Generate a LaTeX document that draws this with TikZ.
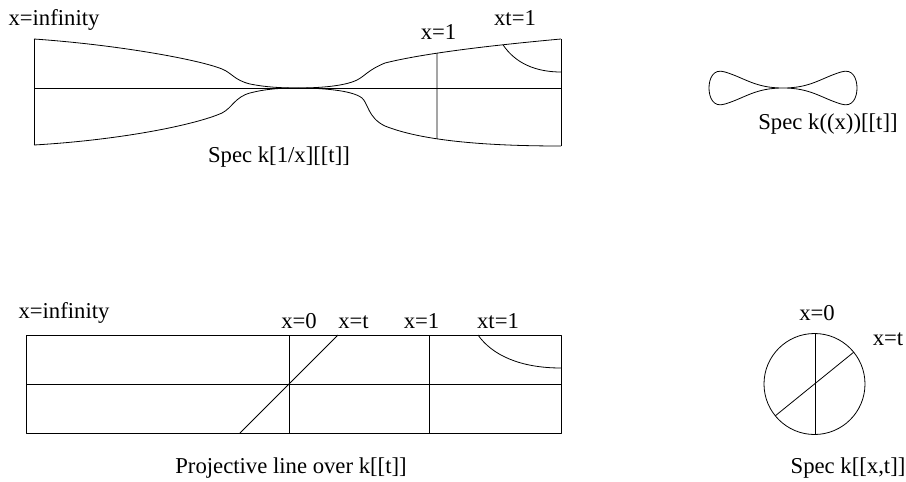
\documentclass[tikz,border=0pt]{standalone}
\usepackage{fontspec}
\setmainfont{Liberation Serif}
\usetikzlibrary{intersections}
\begin{document}
\begin{tikzpicture}[x=1pt,y=-1pt, line width=0.8pt, line join=round,
  lab/.style={font=\fontsize{22.7}{27}\selectfont, inner sep=0pt, anchor=base}]
\useasboundingbox (0,0) rectangle (906,482);
% ---------- top: Spec k[1/x][[t]] ----------
\coordinate (tlA) at (34,39);
\coordinate (blA) at (34,145);
\coordinate (trA) at (561,39);
\coordinate (brA) at (561,146);
\coordinate (neck) at (298,88);
\draw (tlA) -- (blA);
\draw (trA) -- (brA);
\draw (34,88) -- (561,88);
\draw (tlA) .. controls (120,45) and (200,60) .. (222,69)
  .. controls (232,73) and (234,80) .. (250,84)
  .. controls (265,87) and (280,88) .. (neck);
\draw (blA) .. controls (120,140) and (195,125) .. (222,113)
  .. controls (232,108) and (235,97) .. (250,93)
  .. controls (265,89) and (280,88) .. (neck);
\draw[name path=tr] (neck) .. controls (320,88) and (345,86) .. (357,80)
  .. controls (365,76) and (368,70) .. (385,63)
  .. controls (425,53) and (495,45) .. (trA);
\draw[name path=br] (neck) .. controls (320,88) and (352,90) .. (362,98)
  .. controls (368,103) and (368,118) .. (385,126)
  .. controls (420,140) and (480,146) .. (brA);
\path[name path=v1] (437,0) -- (437,200);
\path[name path=v2] (503,0) -- (503,200);
\path[name intersections={of=tr and v1, by=xa}];
\path[name intersections={of=br and v1, by=xb}];
\path[name intersections={of=tr and v2, by=xc}];
\coordinate (xd) at (561,72);
\draw (xa) -- (xb);
\draw (xc) .. controls +(12,18) and +(-26,0) .. (xd);
\node[lab] (t1) at (54,25) {x=infinity};
\node[lab] (t2) at (438.5,39) {x=1};
\node[lab] (t3) at (515,25) {xt=1};
\node[lab] (t4) at (279,162) {Spec k[1/x][[t]]};
% ---------- top right: Spec k((x))[[t]] ----------
\draw (725,72) .. controls (745,78) and (755,88) .. (783,88)
  .. controls (811,88) and (821,78) .. (841,72)
  .. controls (853,68) and (857,79) .. (857,88)
  .. controls (857,97) and (853,108) .. (841,104)
  .. controls (821,98) and (811,88) .. (783,88)
  .. controls (755,88) and (745,98) .. (725,104)
  .. controls (713,108) and (709,97) .. (709,88)
  .. controls (709,79) and (713,68) .. (725,72) -- cycle;
\node[lab] (t5) at (828,129) {Spec k((x))[[t]]};
% ---------- bottom: projective line ----------
\draw (26,335) rectangle (561,433);
\draw (26,384) -- (561,384);
\draw (289,335) -- (289,433);
\draw (429,335) -- (429,433);
\coordinate (dA) at (240,433);
\coordinate (dB) at (338,335);
\draw (dA) -- (dB);
\coordinate (aA) at (478,335);
\coordinate (aB) at (561,368);
\draw (aA) .. controls (492,355) and (520,368) .. (aB);
\node[lab] (b1) at (64,318) {x=infinity};
\node[lab] (b2) at (299,328) {x=0};
\node[lab] (b3) at (353.5,328) {x=t};
\node[lab] (b4) at (421.5,328) {x=1};
\node[lab] (b5) at (498,328) {xt=1};
\node[lab] (b6) at (291,473) {Projective line over k[[t]]};
% ---------- bottom right: Spec k[[x,t]] ----------
\coordinate (cc) at (814.5,384);
\draw (cc) circle[radius=50.5];
\draw (815.5,334) -- (815.5,434);
\draw (775.3,415.8) -- (853.7,352.2);
\node[lab] (c1) at (817,320) {x=0};
\node[lab] (c2) at (888,345) {x=t};
\node[lab] (c3) at (848,473) {Spec k[[x,t]]};
\end{tikzpicture}
\end{document}
